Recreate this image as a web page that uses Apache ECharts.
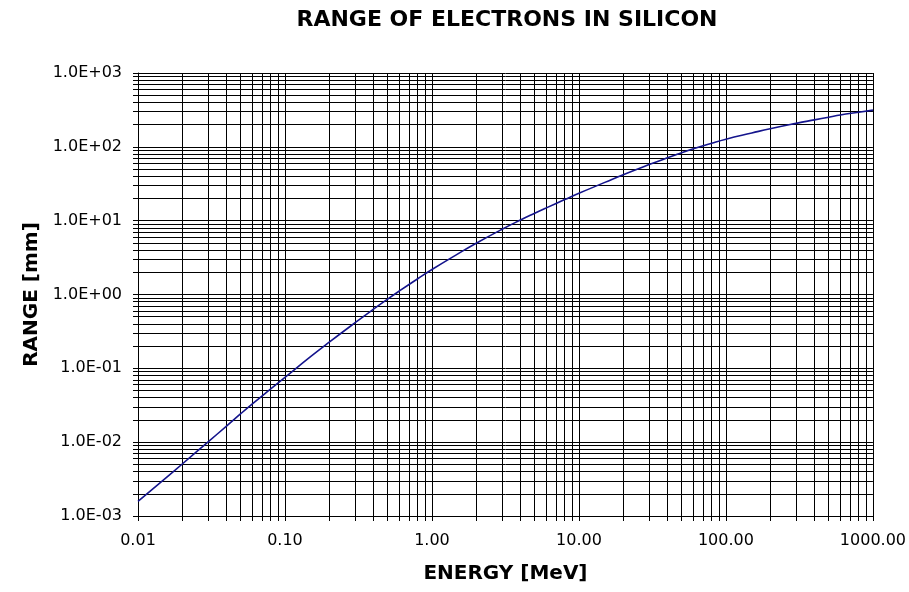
<!DOCTYPE html>
<html><head><meta charset="utf-8">
<script src="https://cdn.jsdelivr.net/npm/echarts@6/dist/echarts.min.js"></script>
<style>html,body{margin:0;padding:0;background:#fff}#c{width:909px;height:592px}</style>
</head><body><div id="c"></div>
<script>
// Energy [MeV]
const energy = [0.01, 0.015, 0.02, 0.03, 0.04, 0.05, 0.06, 0.08, 0.1, 0.15, 0.2, 0.3, 0.4, 0.5, 0.6, 0.8,
  1, 1.5, 2, 3, 4, 5, 6, 8, 10, 15, 20, 30, 40, 50, 60, 80, 100, 150, 200, 300, 400, 500, 600, 800, 1000];
// Range [mm]
const rangeMM = [0.00158, 0.00312, 0.00506, 0.0101, 0.0165, 0.0243, 0.0330, 0.0527, 0.0755, 0.145, 0.226, 0.415, 0.632, 0.868, 1.116, 1.636,
  2.18, 3.55, 4.95, 7.65, 10.2, 12.6, 14.9, 19.3, 23.5, 33.0, 42.0, 57.5, 71, 83, 94, 112, 127, 154, 176, 208, 232, 252, 270, 294, 314];

const xDecades = [0.01, 0.1, 1, 10, 100, 1000];
const xTickLabels = ['0.01', '0.10', '1.00', '10.00', '100.00', '1000.00'];
const yDecades = [0.001, 0.01, 0.1, 1, 10, 100, 1000];
const yTickLabels = ['1.0E-03', '1.0E-02', '1.0E-01', '1.0E+00', '1.0E+01', '1.0E+02', '1.0E+03'];
const minorMultipliers = [1, 2, 3, 4, 5, 6, 7, 8, 9];

const titleText = 'RANGE OF ELECTRONS IN SILICON';
const xName = 'ENERGY [MeV]';
const yName = 'RANGE [mm]';

function gridValues(decades) {
  const out = [];
  decades.forEach((d, i) => {
    if (i < decades.length - 1) minorMultipliers.forEach(m => out.push(parseFloat((d * m).toPrecision(8))));
    else out.push(d);
  });
  return out;
}
function labelFor(decades, labels) {
  return v => {
    for (let i = 0; i < decades.length; i++) {
      if (Math.abs(Math.log10(v) - Math.log10(decades[i])) < 1e-6) return labels[i];
    }
    return '';
  };
}

const FONT = 'DejaVu Sans';
const chart = echarts.init(document.getElementById('c'), null, { renderer: 'canvas' });
chart.setOption({
  animation: false,
  backgroundColor: '#fff',
  graphic: [{
    type: 'text', x: 507, y: 9,
    style: { text: titleText, textAlign: 'center', textVerticalAlign: 'top', font: 'bold 22px "' + FONT + '"', fill: '#000' }
  }],
  grid: { left: 138, right: 35, top: 73, bottom: 76, containLabel: false },
  xAxis: {
    type: 'log', logBase: 10, min: 0.01, max: 1000,
    name: xName, nameLocation: 'middle', nameGap: 48,
    nameTextStyle: { fontFamily: FONT, fontWeight: 'bold', fontSize: 20, color: '#000' },
    axisLine: { show: true, lineStyle: { color: '#000', width: 1 } },
    axisTick: { show: true, inside: false, length: 5, customValues: gridValues(xDecades), lineStyle: { color: '#000' } },
    axisLabel: { show: true, margin: 17, customValues: xDecades, formatter: labelFor(xDecades, xTickLabels),
      fontFamily: FONT, fontSize: 16, color: '#000' },
    splitLine: { show: true, lineStyle: { color: '#000', width: 1 } },
    minorTick: { show: false }, minorSplitLine: { show: false }
  },
  yAxis: {
    type: 'log', logBase: 10, min: 0.001, max: 1000,
    name: yName, nameLocation: 'middle', nameGap: 95, nameRotate: 90,
    nameTextStyle: { fontFamily: FONT, fontWeight: 'bold', fontSize: 20, color: '#000' },
    axisLine: { show: true, lineStyle: { color: '#000', width: 1 } },
    axisTick: { show: true, inside: false, length: 5, customValues: gridValues(yDecades), lineStyle: { color: '#000' } },
    axisLabel: { show: true, margin: 16, customValues: yDecades, formatter: labelFor(yDecades, yTickLabels),
      fontFamily: FONT, fontSize: 16, color: '#000' },
    splitLine: { show: true, lineStyle: { color: '#000', width: 1 } },
    minorTick: { show: false }, minorSplitLine: { show: false }
  },
  series: [{
    type: 'line',
    data: energy.map((e, i) => [e, rangeMM[i]]),
    showSymbol: false, symbol: 'none', smooth: true,
    lineStyle: { color: '#14148c', width: 1.6 },
    z: 5
  }]
});
</script>
</body></html>
